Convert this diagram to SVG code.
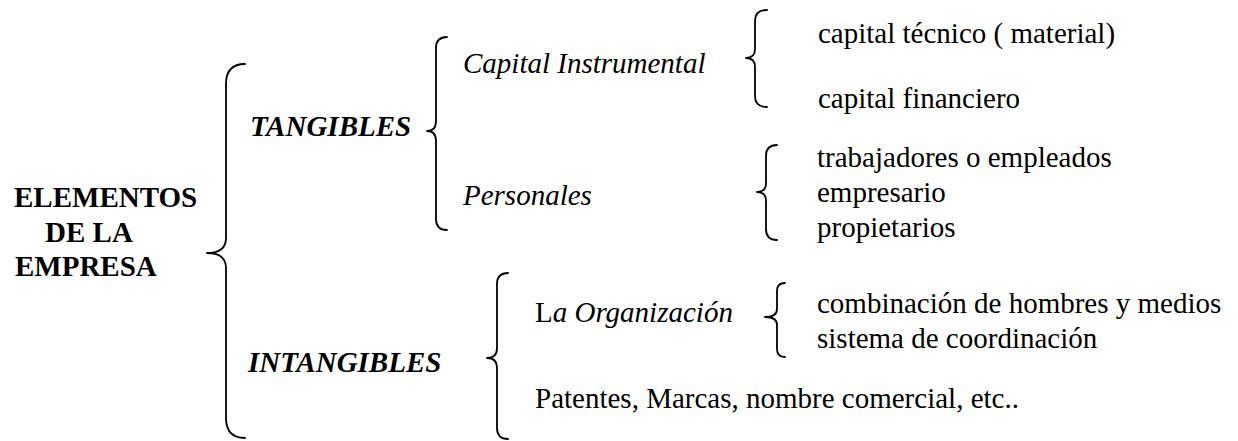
<svg xmlns="http://www.w3.org/2000/svg" width="1238" height="441" viewBox="0 0 1238 441">
<style>
text{font-family:"Liberation Serif","Times New Roman",serif;font-size:29px;fill:#000}
.b{font-weight:bold}
.i{font-style:italic}
.brace{fill:none;stroke:#000;stroke-width:1.8;stroke-linecap:round;stroke-linejoin:round}
</style>
<rect width="1238" height="441" fill="#fff"/>
<g id="connectors">
<path class="brace" d="M245,64 Q226,64 226,84 L226,238 Q226,253 207,253 Q226,253 226,268 L226,418 Q226,438 245,438"/>
<path class="brace" d="M447,37 Q436,37 436,48 L436,121 Q436,131 427,131 Q436,131 436,141 L436,219 Q436,230 447,230"/>
<path class="brace" d="M767,10 Q755,10 755,21 L755,49 Q755,58 746,58 Q755,58 755,67 L755,96 Q755,107 767,107"/>
<path class="brace" d="M777,145 Q766,145 766,156 L766,183 Q766,192 757,192 Q766,192 766,201 L766,229 Q766,240 777,240"/>
<path class="brace" d="M508,273 Q497,273 497,284 L497,348 Q497,358 487,358 Q497,358 497,368 L497,428 Q497,439 508,439"/>
<path class="brace" d="M785,283 Q777,283 777,291 L777,309 Q777,317 765,317 Q777,317 777,325 L777,349 Q777,357 785,357"/>
</g>
<g id="root"><text class="b" x="14" y="207">ELEMENTOS</text><text class="b" x="45" y="242">DE LA</text><text class="b" x="15" y="276">EMPRESA</text></g>
<g id="tangibles"><text class="b i" x="250" y="136">TANGIBLES</text></g>
<g id="intangibles"><text class="b i" x="248" y="372">INTANGIBLES</text></g>
<g id="capital-instrumental"><text class="i" x="463" y="73">Capital Instrumental</text></g>
<g id="personales"><text class="i" x="463" y="205">Personales</text></g>
<g id="capital-tecnico"><text x="818" y="43">capital técnico ( material)</text></g>
<g id="capital-financiero"><text x="818" y="108">capital financiero</text></g>
<g id="personas"><text x="817" y="167">trabajadores o empleados</text><text x="817" y="202">empresario</text><text x="817" y="237">propietarios</text></g>
<g id="organizacion"><text x="535" y="322">L<tspan class="i">a Organización</tspan></text></g>
<g id="organizacion-items"><text x="817" y="313">combinación de hombres y medios</text><text x="817" y="348">sistema de coordinación</text></g>
<g id="patentes"><text x="535" y="408">Patentes, Marcas, nombre comercial, etc..</text></g>
</svg>
